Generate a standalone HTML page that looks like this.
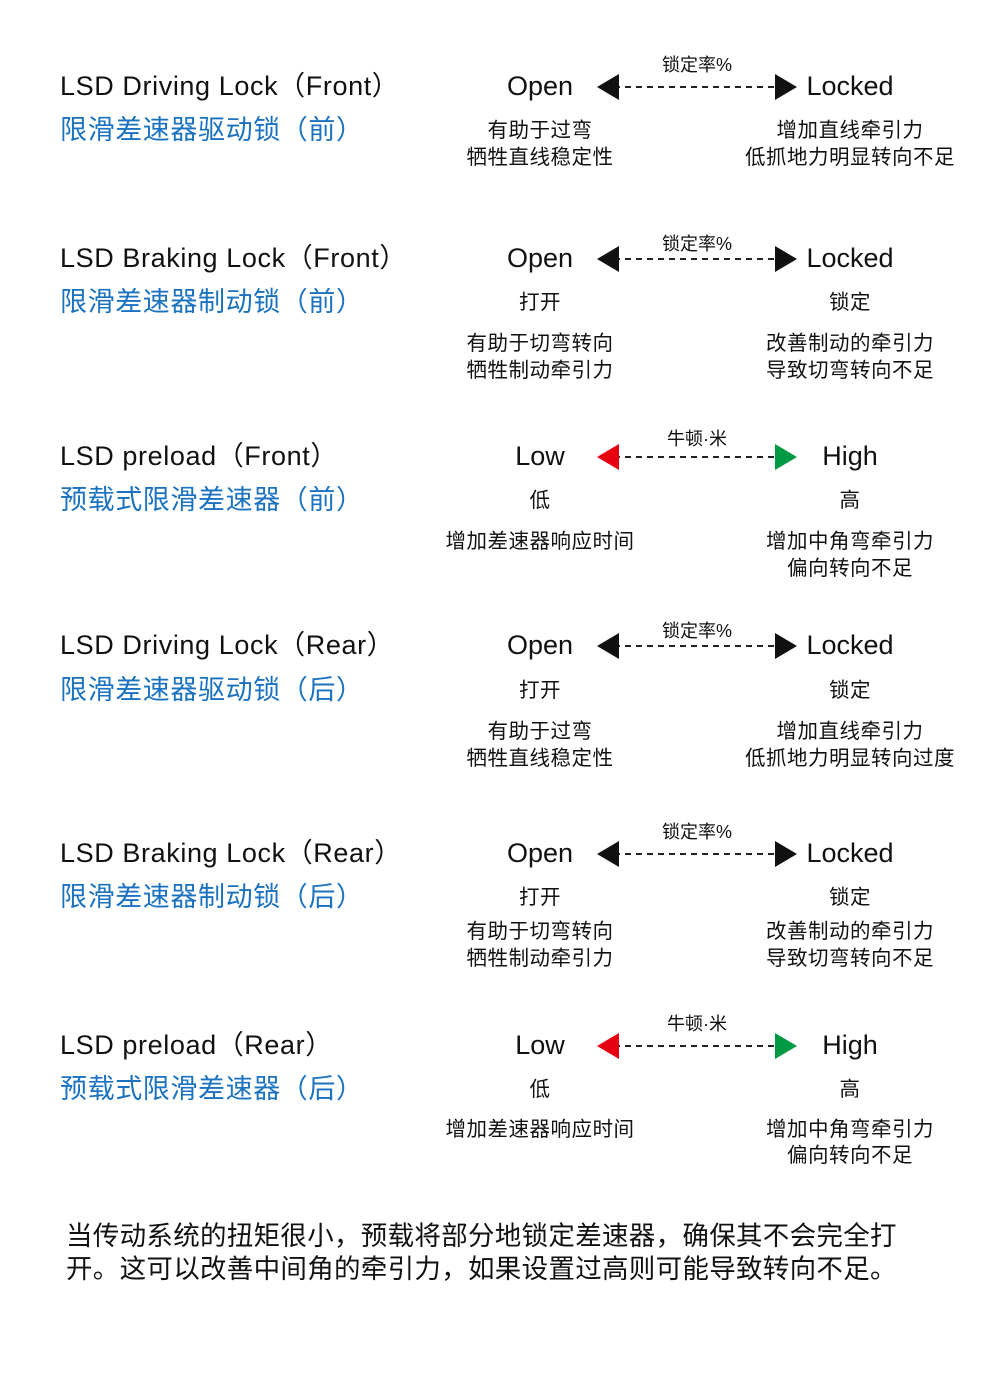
<!DOCTYPE html>
<html><head><meta charset="utf-8"><style>
body{margin:0;background:#fff;}
#c{position:relative;width:1008px;height:1390px;overflow:hidden;font-family:"Liberation Sans","Noto Sans CJK SC",sans-serif;color:#111;}
.t{position:absolute;height:40px;line-height:40px;white-space:nowrap;}
.h{font-size:27px;left:60px;letter-spacing:0.6px;}
.b{font-size:27px;left:60px;color:#1a72c0;letter-spacing:0.6px;}
.c{transform:translateX(-50%);text-align:center;}
.big{font-size:27px;}
.s{font-size:20.5px;letter-spacing:0.5px;}
.l{font-size:18px;}
.p{position:absolute;left:66px;font-size:26.5px;line-height:33px;width:855px;top:1220px;letter-spacing:0.3px;}
</style></head><body><div id="c">
<svg width="1008" height="1390" style="position:absolute;left:0;top:0">
<g stroke="#222" stroke-width="2" stroke-dasharray="6,5">
<line x1="614" y1="87" x2="780" y2="87"/><line x1="614" y1="259" x2="780" y2="259"/>
<line x1="614" y1="457" x2="780" y2="457"/><line x1="614" y1="646" x2="780" y2="646"/>
<line x1="614" y1="854" x2="780" y2="854"/><line x1="614" y1="1046" x2="780" y2="1046"/>
</g>
<g fill="#111">
<polygon points="597,87 619,74 619,100"/><polygon points="797,87 775,74 775,100"/>
<polygon points="597,259 619,246 619,272"/><polygon points="797,259 775,246 775,272"/>
<polygon points="597,646 619,633 619,659"/><polygon points="797,646 775,633 775,659"/>
<polygon points="597,854 619,841 619,867"/><polygon points="797,854 775,841 775,867"/>
</g>
<polygon points="597,457 619,444 619,470" fill="#e60012"/><polygon points="797,457 775,444 775,470" fill="#009944"/>
<polygon points="597,1046 619,1033 619,1059" fill="#e60012"/><polygon points="797,1046 775,1033 775,1059" fill="#009944"/>
</svg>

<div class="t h" style="top:66px">LSD Driving Lock（Front）</div>
<div class="t b" style="top:110px">限滑差速器驱动锁（前）</div>
<div class="t c big" style="left:540px;top:66px">Open</div>
<div class="t c big" style="left:850px;top:66px">Locked</div>
<div class="t c l" style="left:697px;top:45px">锁定率%</div>
<div class="t c s" style="left:540px;top:111px">有助于过弯</div>
<div class="t c s" style="left:540px;top:138px">牺牲直线稳定性</div>
<div class="t c s" style="left:850px;top:111px">增加直线牵引力</div>
<div class="t c s" style="left:850px;top:138px">低抓地力明显转向不足</div>

<div class="t h" style="top:238px">LSD Braking Lock（Front）</div>
<div class="t b" style="top:282px">限滑差速器制动锁（前）</div>
<div class="t c big" style="left:540px;top:238px">Open</div>
<div class="t c big" style="left:850px;top:238px">Locked</div>
<div class="t c l" style="left:697px;top:224px">锁定率%</div>
<div class="t c s" style="left:540px;top:283px">打开</div>
<div class="t c s" style="left:850px;top:283px">锁定</div>
<div class="t c s" style="left:540px;top:324px">有助于切弯转向</div>
<div class="t c s" style="left:540px;top:351px">牺牲制动牵引力</div>
<div class="t c s" style="left:850px;top:324px">改善制动的牵引力</div>
<div class="t c s" style="left:850px;top:351px">导致切弯转向不足</div>

<div class="t h" style="top:436px">LSD preload（Front）</div>
<div class="t b" style="top:480px">预载式限滑差速器（前）</div>
<div class="t c big" style="left:540px;top:436px">Low</div>
<div class="t c big" style="left:850px;top:436px">High</div>
<div class="t c l" style="left:697px;top:419px">牛顿·米</div>
<div class="t c s" style="left:540px;top:481px">低</div>
<div class="t c s" style="left:850px;top:481px">高</div>
<div class="t c s" style="left:540px;top:522px">增加差速器响应时间</div>
<div class="t c s" style="left:850px;top:522px">增加中角弯牵引力</div>
<div class="t c s" style="left:850px;top:549px">偏向转向不足</div>

<div class="t h" style="top:625px">LSD Driving Lock（Rear）</div>
<div class="t b" style="top:670px">限滑差速器驱动锁（后）</div>
<div class="t c big" style="left:540px;top:625px">Open</div>
<div class="t c big" style="left:850px;top:625px">Locked</div>
<div class="t c l" style="left:697px;top:611px">锁定率%</div>
<div class="t c s" style="left:540px;top:671px">打开</div>
<div class="t c s" style="left:850px;top:671px">锁定</div>
<div class="t c s" style="left:540px;top:712px">有助于过弯</div>
<div class="t c s" style="left:540px;top:739px">牺牲直线稳定性</div>
<div class="t c s" style="left:850px;top:712px">增加直线牵引力</div>
<div class="t c s" style="left:850px;top:739px">低抓地力明显转向过度</div>

<div class="t h" style="top:833px">LSD Braking Lock（Rear）</div>
<div class="t b" style="top:877px">限滑差速器制动锁（后）</div>
<div class="t c big" style="left:540px;top:833px">Open</div>
<div class="t c big" style="left:850px;top:833px">Locked</div>
<div class="t c l" style="left:697px;top:812px">锁定率%</div>
<div class="t c s" style="left:540px;top:878px">打开</div>
<div class="t c s" style="left:850px;top:878px">锁定</div>
<div class="t c s" style="left:540px;top:912px">有助于切弯转向</div>
<div class="t c s" style="left:540px;top:939px">牺牲制动牵引力</div>
<div class="t c s" style="left:850px;top:912px">改善制动的牵引力</div>
<div class="t c s" style="left:850px;top:939px">导致切弯转向不足</div>

<div class="t h" style="top:1025px">LSD preload（Rear）</div>
<div class="t b" style="top:1069px">预载式限滑差速器（后）</div>
<div class="t c big" style="left:540px;top:1025px">Low</div>
<div class="t c big" style="left:850px;top:1025px">High</div>
<div class="t c l" style="left:697px;top:1004px">牛顿·米</div>
<div class="t c s" style="left:540px;top:1070px">低</div>
<div class="t c s" style="left:850px;top:1070px">高</div>
<div class="t c s" style="left:540px;top:1110px">增加差速器响应时间</div>
<div class="t c s" style="left:850px;top:1110px">增加中角弯牵引力</div>
<div class="t c s" style="left:850px;top:1136px">偏向转向不足</div>

<div class="p">当传动系统的扭矩很小，预载将部分地锁定差速器，确保其不会完全打<br>开。这可以改善中间角的牵引力，如果设置过高则可能导致转向不足。</div>
</div></body></html>
